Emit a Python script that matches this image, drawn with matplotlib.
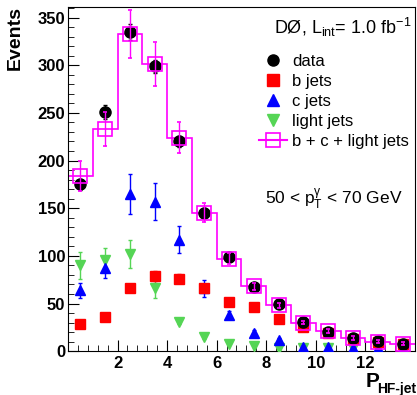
import numpy as np
import matplotlib.pyplot as plt

plt.rcParams['font.family'] = ['Liberation Sans', 'DejaVu Sans']

# bin centres of P_HF-jet
x = np.arange(0.5, 14, 1.0)
edges = np.arange(0, 15, 1.0)

data = [175, 251, 335, 299, 220, 145, 99, 67, 49, 31, 20, 14, 11, 7]
data_err = [6, 7, 8, 7, 6, 5, 4, 3, 3, 2, 2, 2, 2, 1.5]

bjets = [29, 36, 66, 79, 76, 66, 52, 46, 34, 25, 19, 13, 10, 7]
bjets_err = [3, 3, 4, 5, 5, 4, 3, 3, 3, 2, 2, 2, 1.5, 1.5]

cjets = [64, 87, 165, 157, 117, 66, 38, 19, 12, 4, 4, 3, 3, 3]
cjets_err = [8, 10, 21, 19, 14, 9, 4, 3, 2, 1, 1, 1, 1, 1]

ljets = [90, 96, 102, 66, 31, 15, 8, 5, 3, 3, 3, 3, 3, 3]
ljets_err = [14, 12, 15, 10, 3, 2, 1, 1, 1, 1, 1, 1, 1, 1]

total = [184, 233, 333, 301, 224, 145, 97, 68, 48, 30, 21, 14, 10, 8]
total_err = [16, 18, 25, 23, 16, 10, 6, 4, 3, 2, 2, 2, 1.5, 1.5]

green = '#55d555'
mag = '#ff00ff'

fig = plt.figure(figsize=(4.17, 3.95), dpi=100)
ax = fig.add_axes([0.163, 0.111, 0.832, 0.871])

ax.stairs(total, edges, baseline=None, color=mag, lw=1.2, zorder=2)

ax.errorbar(x, ljets, yerr=ljets_err, fmt='v', color=green, ms=7.5, capsize=1.5, lw=1, zorder=3)
ax.errorbar(x, cjets, yerr=cjets_err, fmt='^', color='blue', ms=7.5, capsize=1.5, lw=1, zorder=3)
ax.errorbar(x, bjets, yerr=bjets_err, fmt='s', color='red', ms=7.5, capsize=1.5, lw=1, zorder=4)
ax.errorbar(x, data, yerr=data_err, fmt='o', color='black', ms=8, capsize=1.5, lw=1, zorder=5)
ax.errorbar(x, total, yerr=total_err, fmt='s', color=mag, mfc='none', ms=10, mew=1.2,
            capsize=1.5, lw=1, zorder=6)

# legend handles
h_data = ax.plot([], [], 'o', color='black', ms=8)[0]
h_b = ax.plot([], [], 's', color='red', ms=8)[0]
h_c = ax.plot([], [], '^', color='blue', ms=8)[0]
h_l = ax.plot([], [], 'v', color=green, ms=8)[0]
h_t = ax.plot([], [], '-s', color=mag, mfc='none', ms=10, mew=1.2)[0]
ax.legend([h_data, h_b, h_c, h_l, h_t],
          ['data', 'b jets', 'c jets', 'light jets', 'b + c + light jets'],
          loc='upper left', bbox_to_anchor=(0.55, 0.865), frameon=False,
          fontsize=12, handlelength=1.7, handletextpad=0.3,
          labelspacing=0.3, borderpad=0, borderaxespad=0)

ax.text(0.99, 0.975, r'DØ, L$_{\mathregular{int}}$= 1.0 fb$^{\mathregular{-1}}$',
        transform=ax.transAxes, ha='right', va='top', fontsize=13)
ax.text(0.965, 0.44, r'50 < p$_{\mathregular{T}}^{\mathregular{\gamma}}$ < 70 GeV',
        transform=ax.transAxes, ha='right', va='center', fontsize=12.5)

ax.set_xlim(0, 14)
ax.set_ylim(0, 361)
ax.set_xticks([2, 4, 6, 8, 10, 12])
ax.set_xticks(np.arange(0.4, 14, 0.4), minor=True)
ax.set_yticks(np.arange(0, 351, 50))
ax.set_yticks(np.arange(0, 361, 10), minor=True)
ax.tick_params(which='both', direction='in', top=False, right=False, labelsize=12)
ax.tick_params(which='major', length=8)
ax.tick_params(which='minor', length=4)
ax.tick_params(axis='y', pad=2)
for lab in ax.get_xticklabels() + ax.get_yticklabels():
    lab.set_fontweight('bold')

fig.text(0.036, 0.985, 'Events', rotation=90, ha='center', va='top',
         fontsize=14, fontweight='bold')
# x label: big P with a lowered subscript
fig.text(0.909, 0.021, 'P', ha='right', va='baseline', fontsize=15, fontweight='bold')
fig.text(0.998, 0.006, 'HF-jet', ha='right', va='baseline', fontsize=10, fontweight='bold')

fig.savefig('out.png', dpi=100)
